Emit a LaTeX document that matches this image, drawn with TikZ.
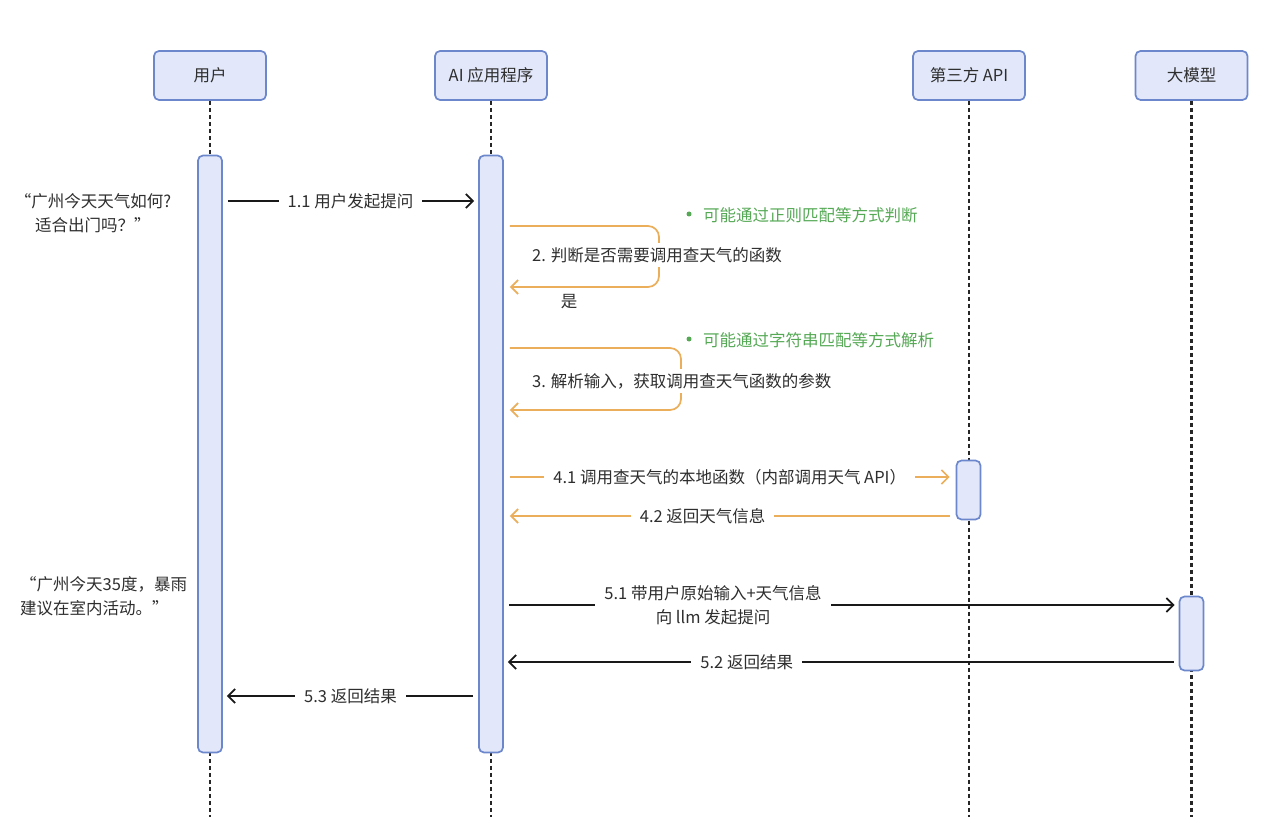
\documentclass[tikz,border=0pt]{standalone}
\usepackage{fontspec}
\setmainfont{Noto Sans CJK SC}
\usetikzlibrary{arrows.meta}
\definecolor{boxfill}{HTML}{E2E8FA}
\definecolor{boxdraw}{HTML}{6C87CC}
\definecolor{orng}{HTML}{EBAE5A}
\definecolor{grn}{HTML}{55A955}
\definecolor{txt}{HTML}{2E2E2E}
\begin{document}
\begin{tikzpicture}[x=1pt,y=-1pt,
  fnt/.style={font=\fontsize{16.5}{24}\selectfont},
  head/.style={draw=boxdraw, fill=boxfill, rounded corners=5pt, line width=1.7pt,
     minimum width=112pt, minimum height=49pt, fnt, text=txt, inner sep=0pt},
  act/.style={draw=boxdraw, fill=boxfill, rounded corners=5pt, line width=1.7pt,
     minimum width=24pt, inner sep=0pt},
  life/.style={line width=2.4pt, black!85, dash pattern=on 4pt off 3pt},
  msg/.style={line width=1.8pt, black!90, -{Straight Barb[length=7pt,width=14pt]},
     shorten <=5pt, shorten >=4pt},
  omsg/.style={line width=1.7pt, orng, -{Straight Barb[length=7pt,width=14pt]},
     shorten <=6pt, shorten >=6pt},
  lbl/.style={fill=white, fnt, text=txt, inner xsep=9pt, inner ysep=4pt},
  note/.style={fnt, text=grn, anchor=west, inner sep=0pt},
  dot/.style={circle, fill=grn, minimum size=5pt, inner sep=0pt},
  quote/.style={fnt, text=txt, inner sep=0pt}]
\useasboundingbox[fill=white] (0,0) rectangle (1280,829);

% headers
\node[head] (h1) at (210,75.5) {用户};
\node[head] (h2) at (491,75.5) {AI 应用程序};
\node[head] (h3) at (969,75.5) {第三方 API};
\node[head] (h4) at (1191.5,75.5) {大模型};

% lifeline ends
\coordinate (yend) at (0,817);
\draw[life] (h1.south) -- (h1.south |- yend);
\draw[life] (h2.south) -- (h2.south |- yend);
\draw[life] (h3.south) -- (h3.south |- yend);
\draw[life] (h4.south) -- (h4.south |- yend);

% activation bars
\node[act, minimum height=597pt] (a1) at (210,454) {};
\node[act, minimum height=597pt] (a2) at (491,454) {};
\node[act, minimum height=59pt] (a3) at (968.5,490) {};
\node[act, minimum height=74pt] (a4) at (1191.5,633.5) {};

% y levels
\coordinate (y11) at (0,201);
\coordinate (y2t) at (0,226);
\coordinate (y2b) at (0,287);
\coordinate (y3t) at (0,348);
\coordinate (y3b) at (0,410);
\coordinate (y41) at (0,477);
\coordinate (y42) at (0,516);
\coordinate (y51) at (0,605);
\coordinate (y52) at (0,662);
\coordinate (y53) at (0,696);

% 1.1
\draw[msg] (a1.east |- y11) -- node[lbl]{1.1 用户发起提问} (a2.west |- y11);

% 2. self loop
\draw[omsg, rounded corners=11pt] (a2.east |- y2t) -- (659,226) -- (659,287) -- (a2.east |- y2b);
\node[lbl, anchor=west, inner xsep=2pt] (l2) at (530,255) {2. 判断是否需要调用查天气的函数};
\node[fnt, text=txt, inner sep=0pt] (yes) at (569,302) {是};
\node[dot] (b2) at (689,214) {};
\node[note] (n2) at (703,215) {可能通过正则匹配等方式判断};

% 3. self loop
\draw[omsg, rounded corners=11pt] (a2.east |- y3t) -- (681,348) -- (681,410) -- (a2.east |- y3b);
\node[lbl, anchor=west, inner xsep=2pt] (l3) at (530,381) {3. 解析输入，获取调用查天气函数的参数};
\node[dot] (b3) at (689,339) {};
\node[note] (n3) at (703,340) {可能通过字符串匹配等方式解析};

% 4.x
\draw[omsg] (a2.east |- y41) -- node[lbl]{4.1 调用查天气的本地函数（内部调用天气 API）} (a3.west |- y41);
\draw[omsg] (a3.west |- y42) -- node[lbl, pos=0.56]{4.2 返回天气信息} (a2.east |- y42);

% 5.x
\draw[msg] (a2.east |- y51) -- node[lbl, pos=0.31, align=center]{5.1 带用户原始输入+天气信息\\向 llm 发起提问} (a4.west |- y51);
\draw[msg] (a4.west |- y52) -- node[lbl, pos=0.64]{5.2 返回结果} (a2.east |- y52);
\draw[msg] (a2.west |- y53) -- node[lbl]{5.3 返回结果} (a1.east |- y53);

% quotes
\node[quote, align=center] (q1) at (93,213) {“广州今天天气如何?\\适合出门吗？”};
\node[quote, align=left, anchor=west] (q2) at (20,596) {“广州今天35度，暴雨\\建议在室内活动。”};
\end{tikzpicture}
\end{document}
